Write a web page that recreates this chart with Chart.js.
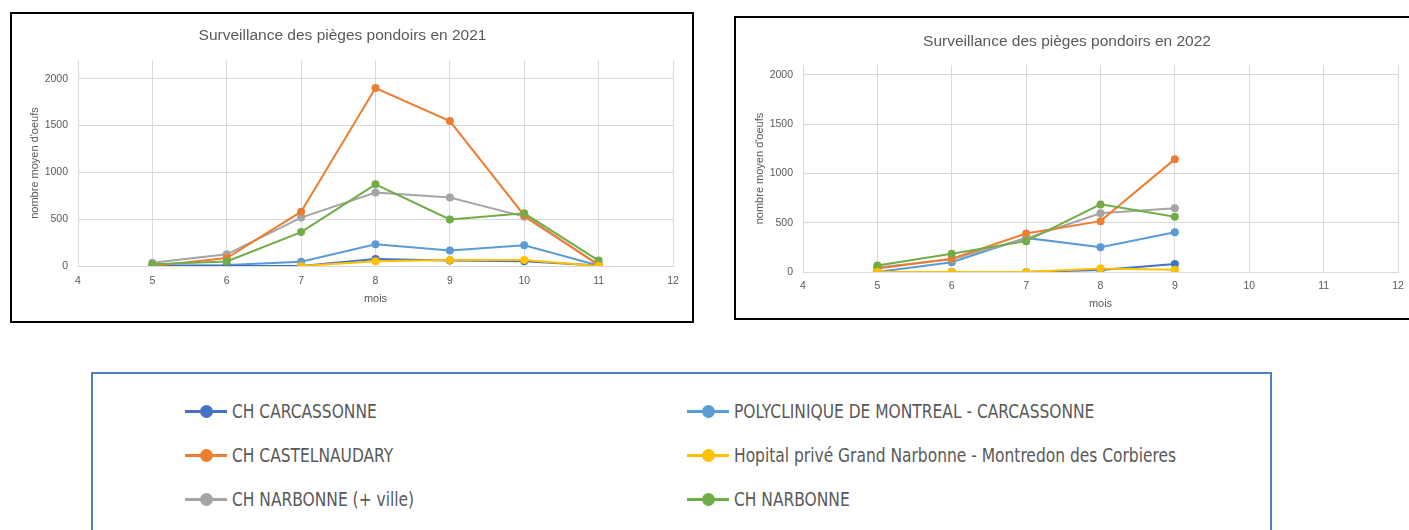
<!DOCTYPE html>
<html>
<head>
<meta charset="utf-8">
<script src="https://cdn.jsdelivr.net/npm/chart.js@4.4.0/dist/chart.umd.min.js"></script>
<style>
body { margin:0; width:1409px; height:530px; overflow:hidden; background:#fff; position:relative; }
.box { position:absolute; border:2px solid #000; background:#fff; box-sizing:border-box; }
#box2021 { left:10px; top:12px; width:684px; height:311px; }
#box2022 { left:734px; top:16px; width:686px; height:304px; }
canvas { display:block; }
#legend { position:absolute; left:91px; top:372px; width:1181px; height:200px; border:2px solid #4f81bd; box-sizing:border-box; }
.item { position:absolute; display:flex; align-items:center; height:30px; font-family:"DejaVu Sans Condensed", sans-serif; font-size:20px; color:#595959; white-space:nowrap; }
.mark { position:relative; width:42px; height:3px; margin-right:5px; flex:none; }
.dot { position:absolute; left:15px; top:-5px; width:13px; height:13px; border-radius:50%; }
.txt { display:inline-block; transform:scaleX(0.86); transform-origin:left center; }
</style>
</head>
<body>
<div class="box" id="box2021"><canvas id="c2021" width="680" height="307"></canvas></div>
<div class="box" id="box2022"><canvas id="c2022" width="682" height="300"></canvas></div>
<div id="legend"></div>
<script>
// mois
const months2021 = [5, 6, 7, 8, 9, 10, 11]
const months2022 = [5, 6, 7, 8, 9]
const yTicks = [0, 500, 1000, 1500, 2000]

// noms des sites
const names = ['CH CARCASSONNE', 'POLYCLINIQUE DE MONTREAL - CARCASSONNE', 'CH CASTELNAUDARY',
  'Hopital privé Grand Narbonne - Montredon des Corbieres', 'CH NARBONNE (+ ville)', 'CH NARBONNE']
const colors = ['#4472C4', '#5B9BD5', '#ED7D31', '#FFC000', '#A5A5A5', '#70AD47']

// 2021
const carcassonne2021 = [0, 0, 0, 75, 60, 50, 5]
const polyclinique2021 = [5, 10, 45, 232, 165, 222, 5]
const castelnaudary2021 = [0, 85, 580, 1900, 1548, 540, 10]
const hopital2021 = [null, null, 0, 50, 64, 64, 0]
const narbonneVille2021 = [35, 125, 517, 784, 732, 527, 15]
const narbonne2021 = [18, 48, 362, 872, 497, 563, 58]

// 2022
const carcassonne2022 = [0, 0, 0, 20, 81]
const polyclinique2022 = [0, 99, 346, 251, 403]
const castelnaudary2022 = [35, 135, 391, 516, 1145]
const hopital2022 = [0, 0, 0, 35, 22]
const narbonneVille2022 = [45, 130, 340, 595, 646]
const narbonne2022 = [65, 185, 313, 686, 560]

const values2021 = [carcassonne2021, polyclinique2021, castelnaudary2021, hopital2021, narbonneVille2021, narbonne2021]
const values2022 = [carcassonne2022, polyclinique2022, castelnaudary2022, hopital2022, narbonneVille2022, narbonne2022]

// draw order: first one ends on top
const drawOrder = [3, 5, 2, 4, 0, 1]

const grey = '#595959'
const tickFont = { family: 'Liberation Sans', size: 10.5 }
const axisFont = { family: 'Liberation Sans', size: 11 }

function buildChart(id, title, months, values, p) {
  const datasets = drawOrder.map(i => ({
    label: names[i],
    data: months.map((m, k) => ({ x: m, y: values[i][k] })),
    borderColor: colors[i],
    backgroundColor: colors[i],
    borderWidth: 2,
    pointRadius: 4,
    pointHoverRadius: 4,
    pointBorderWidth: 0,
    tension: 0
  }))
  return new Chart(document.getElementById(id), {
    type: 'line',
    data: { datasets: datasets },
    options: {
      responsive: false,
      animation: false,
      devicePixelRatio: 1,
      layout: { padding: { left: 0, right: p.right, top: 0, bottom: 0 } },
      plugins: {
        legend: { display: false },
        tooltip: { enabled: false },
        title: {
          display: true, text: title, color: grey,
          font: { family: 'Liberation Sans', size: 15.5, weight: 'normal' },
          padding: { top: p.titleTop, bottom: p.titleBottom }
        }
      },
      scales: {
        x: {
          type: 'linear', min: 4, max: 12,
          ticks: { stepSize: 1, color: grey, font: tickFont, padding: p.xTickPad },
          grid: { color: '#d9d9d9', drawTicks: false },
          border: { color: '#d9d9d9' },
          title: { display: true, text: 'mois', color: grey, font: axisFont, padding: { top: 0, bottom: p.xTitleBottom } },
          afterFit: s => { s.height = p.xHeight }
        },
        y: {
          min: 0, max: p.yMax,
          afterBuildTicks: s => { s.ticks = yTicks.map(v => ({ value: v })) },
          ticks: { color: grey, font: tickFont, padding: 10, callback: v => String(v) },
          grid: { color: '#d9d9d9', drawTicks: false },
          border: { display: false },
          title: { display: true, text: "nombre moyen d'oeufs", color: grey, font: axisFont, padding: { top: p.yTitleTop, bottom: 0 } },
          afterFit: s => { s.width = p.yWidth }
        }
      }
    }
  })
}

buildChart('c2021', 'Surveillance des pièges pondoirs en 2021', months2021, values2021,
  { right: 19, titleTop: 12, titleBottom: 15.4, xTickPad: 9, xTitleBottom: 15, xHeight: 55, yMax: 2200, yTitleTop: 16, yWidth: 66 })
buildChart('c2022', 'Surveillance des pièges pondoirs en 2022', months2022, values2022,
  { right: 20, titleTop: 14, titleBottom: 14.4, xTickPad: 8, xTitleBottom: 7, xHeight: 46, yMax: 2100, yTitleTop: 17, yWidth: 67 })

// legend, two columns, three rows
const legend = document.getElementById('legend')
const colLeft = [92, 594]
const rowTop = [22, 66, 110]
names.forEach((name, i) => {
  const item = document.createElement('div')
  item.className = 'item'
  item.style.left = colLeft[i % 2] + 'px'
  item.style.top = rowTop[Math.floor(i / 2)] + 'px'
  const mark = document.createElement('span')
  mark.className = 'mark'
  mark.style.background = colors[i]
  const dot = document.createElement('span')
  dot.className = 'dot'
  dot.style.background = colors[i]
  mark.appendChild(dot)
  const txt = document.createElement('span')
  txt.className = 'txt'
  txt.textContent = name
  item.appendChild(mark)
  item.appendChild(txt)
  legend.appendChild(item)
})
</script>
</body>
</html>
